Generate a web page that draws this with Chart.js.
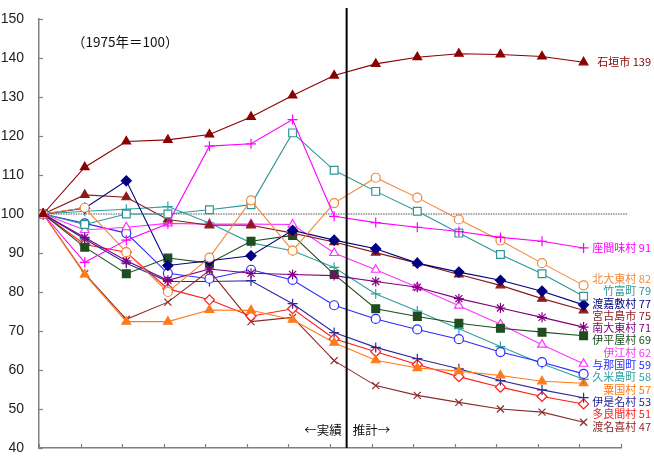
<!DOCTYPE html>
<html>
<head>
<meta charset="utf-8">
<script src="https://cdn.jsdelivr.net/npm/chart.js@4.4.1/dist/chart.umd.min.js"></script>
<style>
  body { margin: 0; background: #fff; }
  #wrap { width: 654px; height: 459px; position: relative; }
</style>
</head>
<body>
<div id="wrap"><canvas id="popChart"></canvas></div>
<script>
// 1975-2040, 5 year steps (1975 = 100)
const years = [1975, 1980, 1985, 1990, 1995, 2000, 2005, 2010, 2015, 2020, 2025, 2030, 2035, 2040];

const ishigaki   = [100, 112.0, 118.6, 119.0, 120.4, 124.9, 130.4, 135.5, 138.5, 140.2, 141.1, 140.9, 140.4, 138.9];
const zamami     = [100, 87.6, 93.3, 97.5, 117.4, 118.0, 124.2, 99.4, 97.8, 96.6, 95.5, 94.0, 93.0, 91.3];
const kitadaito  = [100, 101.6, 90.2, 80.0, 88.8, 103.5, 90.6, 102.8, 109.3, 104.2, 98.6, 93.2, 87.4, 81.7];
const taketomi   = [100, 97.3, 100.0, 100.0, 101.1, 102.4, 120.8, 111.2, 105.8, 100.7, 95.1, 89.6, 84.7, 78.9];
const tokashiki  = [100, 101.5, 108.5, 86.8, 88.0, 89.3, 95.8, 93.3, 91.1, 87.4, 85.1, 83.0, 80.2, 76.7];
const miyakojima = [100, 104.9, 104.3, 98.6, 97.1, 97.1, 95.1, 92.8, 90.1, 87.4, 84.5, 81.7, 78.3, 75.3];
const minamidaito= [100, 94.0, 88.0, 83.0, 85.9, 84.8, 84.5, 84.2, 82.7, 81.2, 78.3, 75.9, 73.5, 71.0];
const iheya      = [100, 91.5, 84.7, 88.7, 87.4, 93.0, 94.5, 84.5, 75.7, 73.7, 72.0, 70.7, 69.7, 68.8];
const ie         = [100, 95.9, 96.6, 97.6, 97.4, 97.4, 97.3, 90.0, 85.7, 81.2, 76.5, 71.7, 66.5, 61.6];
const yonaguni   = [100, 97.6, 95.1, 84.8, 83.4, 85.7, 83.1, 76.6, 73.1, 70.4, 67.9, 64.6, 62.0, 59.0];
const kumejima   = [100, 100.7, 101.2, 101.9, 97.7, 92.6, 90.6, 86.3, 79.5, 75.1, 70.6, 66.0, 61.6, 57.6];
const aguni      = [100, 84.5, 72.4, 72.4, 75.4, 75.3, 72.9, 67.0, 62.5, 60.5, 59.7, 58.6, 57.1, 56.6];
const izena      = [100, 93.6, 87.4, 82.7, 82.7, 82.9, 77.0, 69.6, 65.8, 62.9, 60.3, 57.3, 54.9, 52.9];
const tarama     = [100, 92.2, 90.2, 80.8, 78.0, 73.8, 75.7, 68.0, 64.7, 61.4, 58.3, 55.6, 53.2, 51.3];
const tonaki     = [100, 84.7, 73.0, 77.4, 85.5, 72.4, 73.5, 62.4, 56.0, 53.5, 51.7, 50.0, 49.2, 46.6];

const yTicks = [40, 50, 60, 70, 80, 90, 100, 110, 120, 130, 140, 150];

// name, values, colour, marker, filled
const series = [
    ["石垣市",   ishigaki,    "#8b0000", "triangle", true],
    ["座間味村", zamami,      "#ff00ff", "cross",    false],
    ["北大東村", kitadaito,   "#f0883c", "circle",   false],
    ["竹富町",   taketomi,    "#2e9696", "rect",     false],
    ["渡嘉敷村", tokashiki,   "#000080", "rectRot",  true],
    ["宮古島市", miyakojima,  "#8b1a1a", "triangle", true],
    ["南大東村", minamidaito, "#800080", "star",     false],
    ["伊平屋村", iheya,       "#1f4d1f", "rect",     true],
    ["伊江村",   ie,          "#ff33ff", "triangle", false],
    ["与那国町", yonaguni,    "#2b2bff", "circle",   false],
    ["久米島町", kumejima,    "#30a0a0", "cross",    false],
    ["粟国村",   aguni,       "#ff7a1a", "triangle", true],
    ["伊是名村", izena,       "#2a2a99", "cross",    false],
    ["多良間村", tarama,      "#ff1a1a", "rectRot",  false],
    ["渡名喜村", tonaki,      "#8b2a2a", "crossRot", false],
];

const splitAt = 7.3;      // actual / projection border
const baseLine = 100;

function markerRadius(style) {
    if (style === "rect") return 5.5;
    if (style === "rectRot") return 5;
    if (style === "circle") return 4.5;
    return 5;
}

const datasets = series.map(([name, values, color, style, filled]) => ({
    label: name,
    data: values.map((v, i) => ({ x: i, y: v })),
    borderColor: color,
    backgroundColor: filled ? color : "#ffffff",
    borderWidth: 1.1,
    pointStyle: style,
    pointRadius: markerRadius(style),
    pointBorderColor: color,
    pointBackgroundColor: filled ? color : "#ffffff",
    pointBorderWidth: 1.2,
    tension: 0,
}));

// push end labels apart so they do not overlap
function spreadLabels(items, gap) {
    items.sort((a, b) => a.target - b.target);
    let groups = items.map(it => ({ members: [it], top: it.target }));
    let merged = true;
    while (merged) {
        merged = false;
        for (let i = 0; i < groups.length - 1; i++) {
            const g = groups[i], h = groups[i + 1];
            if (g.top + g.members.length * gap > h.top) {
                const members = g.members.concat(h.members);
                const mean = members.reduce((s, m) => s + m.target, 0) / members.length;
                groups.splice(i, 2, { members: members, top: mean - (members.length - 1) * gap / 2 });
                merged = true;
                break;
            }
        }
    }
    groups.forEach(g => g.members.forEach((m, k) => { m.y = g.top + k * gap; }));
}

const decorations = {
    id: "decorations",
    beforeDatasetsDraw(chart) {
        const { ctx, scales: { x, y } } = chart;
        ctx.save();
        // dotted 100 line
        ctx.strokeStyle = "#8a8a8a";
        ctx.lineWidth = 1.5;
        ctx.setLineDash([1.5, 1]);
        ctx.beginPath();
        ctx.moveTo(x.getPixelForValue(0), y.getPixelForValue(baseLine));
        ctx.lineTo(x.getPixelForValue(14.06), y.getPixelForValue(baseLine));
        ctx.stroke();
        ctx.setLineDash([]);

        // inward tick marks
        ctx.strokeStyle = "#808080";
        ctx.lineWidth = 1.2;
        const left = chart.chartArea.left, bottom = chart.chartArea.bottom;
        yTicks.forEach(t => {
            const py = Math.round(y.getPixelForValue(t)) + 0.5;
            ctx.beginPath();
            ctx.moveTo(left, py);
            ctx.lineTo(left + 4, py);
            ctx.stroke();
        });
        for (let k = 0; k <= years.length; k++) {
            const px = Math.round(x.getPixelForValue(k - 0.1)) + 0.5;
            ctx.beginPath();
            ctx.moveTo(px, bottom);
            ctx.lineTo(px, bottom - 4);
            ctx.stroke();
        }
        ctx.restore();
    },
    afterDraw(chart) {
        const { ctx, scales: { x, y } } = chart;
        ctx.save();
        // actual / projection border
        const sx = x.getPixelForValue(splitAt);
        ctx.strokeStyle = "#000";
        ctx.lineWidth = 2;
        ctx.beginPath();
        ctx.moveTo(sx, y.getPixelForValue(152.8));
        ctx.lineTo(sx, y.getPixelForValue(40));
        ctx.stroke();

        ctx.fillStyle = "#111";
        ctx.font = "13.5px 'Noto Sans CJK JP'";
        ctx.textBaseline = "middle";
        ctx.textAlign = "left";
        ctx.fillText("（1975年＝100）", 72, y.getPixelForValue(144.2));
        ctx.font = "12.5px 'Noto Sans CJK JP'";
        ctx.textAlign = "right";
        ctx.fillText("←実績", sx - 5, y.getPixelForValue(44.6));
        ctx.textAlign = "left";
        ctx.fillText("推計→", sx + 6, y.getPixelForValue(44.6));

        // end labels
        const items = series.map(([name, values, color]) => {
            const last = values[values.length - 1];
            return { text: name + " " + Math.round(last), color: color, target: y.getPixelForValue(last) };
        });
        spreadLabels(items, 12.3);
        ctx.font = "11px 'Noto Sans CJK JP'";
        ctx.textAlign = "right";
        items.forEach(it => {
            ctx.fillStyle = it.color;
            ctx.fillText(it.text, 651, it.y);
        });
        ctx.restore();
    },
};

function initPopChart() {
    const ctx = document.getElementById("popChart");
    new Chart(ctx, {
        type: "line",
        data: { datasets: datasets },
        options: {
            responsive: true,
            maintainAspectRatio: false,
            animation: false,
            layout: { padding: { top: 19, right: 33, bottom: 11, left: 0 } },
            plugins: { legend: { display: false }, tooltip: { enabled: false } },
            scales: {
                x: {
                    type: "linear",
                    min: -0.1,
                    max: 13.9,
                    ticks: { display: false },
                    grid: { display: false, drawTicks: false },
                    border: { color: "#808080", width: 1.5 },
                    afterFit: s => { s.height = 0; },
                },
                y: {
                    min: 40,
                    max: 150,
                    afterBuildTicks: s => { s.ticks = yTicks.map(v => ({ value: v })); },
                    ticks: {
                        padding: 0,
                        color: "#222",
                        font: { family: "'Liberation Sans', Arial, sans-serif", size: 14 },
                    },
                    grid: { display: false, drawTicks: true, tickLength: 15 },
                    border: { color: "#808080", width: 1.5 },
                    afterFit: s => { s.width = 39; },
                },
            },
        },
        plugins: [decorations],
    });
}

document.addEventListener("DOMContentLoaded", initPopChart);
</script>
</body>
</html>
